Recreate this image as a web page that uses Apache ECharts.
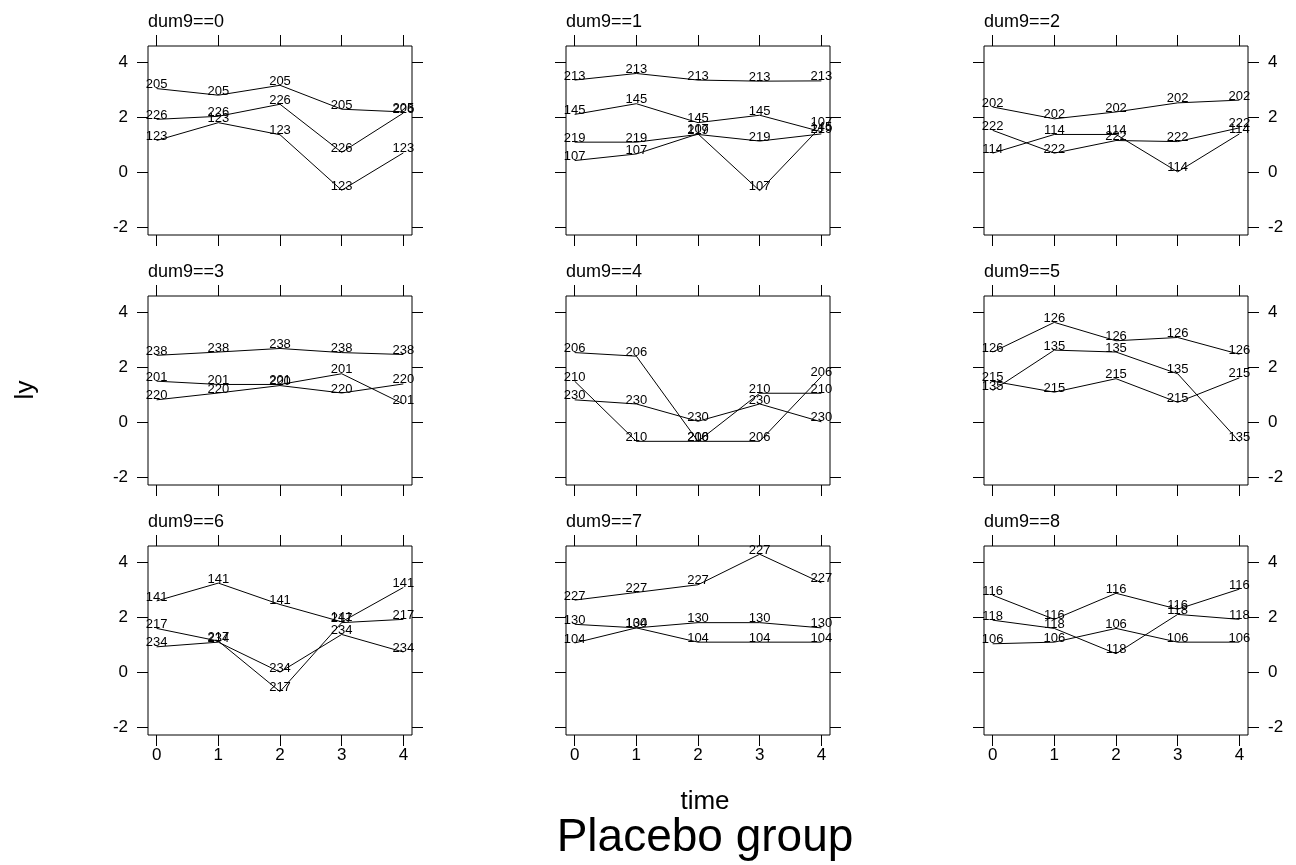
<!DOCTYPE html>
<html>
<head>
<meta charset="utf-8">
<script src="https://cdn.jsdelivr.net/npm/echarts@6/dist/echarts.min.js"></script>
<style>
html,body{margin:0;padding:0;background:#fff;}
#chart{width:1296px;height:865px;}
</style>
</head>
<body>
<div id="chart"></div>
<script>
const times = [0, 1, 2, 3, 4];
const xTicks = [0, 1, 2, 3, 4];
const yTicks = [-2, 0, 2, 4];
const panelNames = ['dum9==0','dum9==1','dum9==2','dum9==3','dum9==4','dum9==5','dum9==6','dum9==7','dum9==8'];

const ids0 = ['205','226','123'];
const ly0 = [[3.05,2.81,3.17,2.30,2.20],[1.93,2.04,2.48,0.73,2.16],[1.16,1.81,1.37,-0.65,0.71]];
const ids1 = ['213','145','219','107'];
const ly1 = [[3.36,3.60,3.36,3.32,3.33],[2.11,2.50,1.81,2.08,1.48],[1.10,1.10,1.38,1.14,1.40],[0.43,0.67,1.40,-0.67,1.68]];
const ids2 = ['202','222','114'];
const ly2 = [[2.38,1.95,2.20,2.53,2.63],[1.53,0.70,1.16,1.12,1.62],[0.70,1.38,1.38,0.02,1.40]];
const ids3 = ['238','201','220'];
const ly3 = [[2.44,2.56,2.69,2.54,2.47],[1.50,1.38,1.38,1.77,0.67],[0.82,1.07,1.34,1.07,1.40]];
const ids4 = ['206','210','230'];
const ly4 = [[2.54,2.41,-0.69,-0.69,1.67],[1.50,-0.69,-0.69,1.06,1.06],[0.82,0.67,0.04,0.67,0.02]];
const ids5 = ['126','135','215'];
const ly5 = [[2.56,3.64,2.97,3.09,2.48],[1.16,2.63,2.56,1.77,-0.70],[1.50,1.10,1.59,0.73,1.62]];
const ids6 = ['141','217','234'];
const ly6 = [[2.60,3.25,2.47,1.84,3.09],[1.60,1.14,-0.70,1.81,1.93],[0.93,1.10,0.01,1.38,0.74]];
const ids7 = ['227','130','104'];
const ly7 = [[2.63,2.91,3.19,4.30,3.26],[1.75,1.62,1.81,1.81,1.62],[1.07,1.62,1.10,1.10,1.10]];
const ids8 = ['116','118','106'];
const ly8 = [[2.81,1.93,2.88,2.30,3.03],[1.90,1.60,0.68,2.11,1.93],[1.04,1.10,1.60,1.10,1.10]];

const allIds = [ids0, ids1, ids2, ids3, ids4, ids5, ids6, ids7, ids8];
const allLy = [ly0, ly1, ly2, ly3, ly4, ly5, ly6, ly7, ly8];

const FONT = 'Liberation Sans, Arial, Helvetica, sans-serif';
const X_MIN = -0.14, X_MAX = 4.14, Y_MIN = -2.28, Y_MAX = 4.60;
const GL = 148, GT = 46, GW = 264, GH = 189, DX = 418, DY = 250;

const grids = [], xAxes = [], yAxes = [], series = [], graphics = [];
const tickStyle = { show: true, length: 11, inside: false, lineStyle: { color: '#000', width: 1 } };
const noLine = { show: false, onZero: false };

for (let i = 0; i < 9; i++) {
  const row = Math.floor(i / 3), col = i % 3;
  grids.push({ left: GL + DX * col, top: GT + DY * row, width: GW, height: GH,
    show: true, borderColor: '#000', borderWidth: 1, backgroundColor: 'transparent', containLabel: false });
  xAxes.push({ gridIndex: i, type: 'value', position: 'bottom', min: X_MIN, max: X_MAX,
    axisLine: noLine, splitLine: { show: false },
    axisTick: Object.assign({ customValues: xTicks }, tickStyle),
    axisLabel: { show: row === 2, customValues: xTicks, margin: 12, fontSize: 17, color: '#000', fontFamily: FONT } });
  xAxes.push({ gridIndex: i, type: 'value', position: 'top', min: X_MIN, max: X_MAX,
    axisLine: noLine, splitLine: { show: false },
    axisTick: Object.assign({ customValues: xTicks }, tickStyle),
    axisLabel: { show: false } });
  yAxes.push({ gridIndex: i, type: 'value', position: 'left', min: Y_MIN, max: Y_MAX,
    axisLine: noLine, splitLine: { show: false },
    axisTick: Object.assign({ customValues: yTicks }, tickStyle),
    axisLabel: { show: col === 0, customValues: yTicks, margin: 20, fontSize: 17, color: '#000', fontFamily: FONT } });
  yAxes.push({ gridIndex: i, type: 'value', position: 'right', min: Y_MIN, max: Y_MAX,
    axisLine: noLine, splitLine: { show: false },
    axisTick: Object.assign({ customValues: yTicks }, tickStyle),
    axisLabel: { show: col === 2, customValues: yTicks, margin: 20, fontSize: 17, color: '#000', fontFamily: FONT } });

  const ids = allIds[i], ly = allLy[i];
  ids.forEach((id, k) => {
    series.push({
      type: 'line', name: id, xAxisIndex: 2 * i, yAxisIndex: 2 * i,
      data: times.map((t, j) => [t, ly[k][j]]),
      symbol: 'circle', symbolSize: 1, showSymbol: true,
      itemStyle: { color: 'rgba(0,0,0,0)' },
      lineStyle: { color: '#000', width: 1 },
      label: { show: true, position: 'inside', offset: [0, -4], formatter: id,
        color: '#000', fontSize: 13, fontFamily: FONT },
      silent: true, animation: false, clip: false
    });
  });

  graphics.push({ type: 'text', x: GL + DX * col, y: 22 + DY * row,
    style: { text: panelNames[i], fill: '#000', font: '18px ' + FONT, textAlign: 'left', textVerticalAlign: 'middle' } });
}

graphics.push({ type: 'text', x: 26, y: 390, rotation: Math.PI / 2,
  style: { text: 'ly', fill: '#000', font: '26px ' + FONT, textAlign: 'center', textVerticalAlign: 'middle' } });
graphics.push({ type: 'text', x: 705, y: 802,
  style: { text: 'time', fill: '#000', font: '26px ' + FONT, textAlign: 'center', textVerticalAlign: 'middle' } });
graphics.push({ type: 'text', x: 705, y: 838,
  style: { text: 'Placebo group', fill: '#000', font: '46px ' + FONT, textAlign: 'center', textVerticalAlign: 'middle' } });

const chart = echarts.init(document.getElementById('chart'), null, { renderer: 'canvas' });
chart.setOption({
  animation: false,
  backgroundColor: '#fff',
  textStyle: { fontFamily: FONT },
  grid: grids, xAxis: xAxes, yAxis: yAxes, series: series, graphic: graphics
});
</script>
</body>
</html>
